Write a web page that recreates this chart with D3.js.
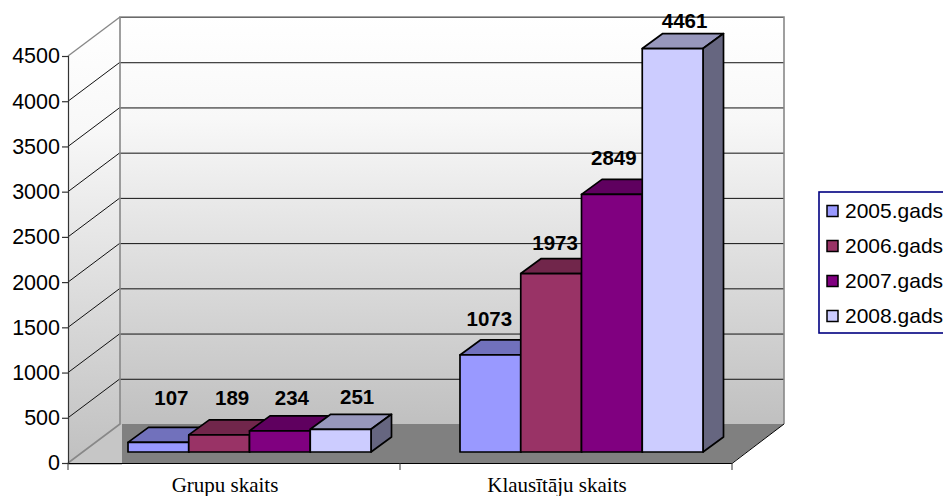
<!DOCTYPE html>
<html><head><meta charset="utf-8">
<script src="https://cdnjs.cloudflare.com/ajax/libs/d3/7.8.5/d3.min.js"></script>
<style>html,body{margin:0;padding:0;background:#fff;overflow:hidden}svg{display:block}</style>
</head><body><svg id="c" width="943" height="496"></svg>
<script>
const categories = ["Grupu skaits", "Klausītāju skaits"];
const seriesNames = ["2005.gads", "2006.gads", "2007.gads", "2008.gads"];
const values2005 = [107, 1073];
const values2006 = [189, 1973];
const values2007 = [234, 2849];
const values2008 = [251, 4461];
const yTicks = [0, 500, 1000, 1500, 2000, 2500, 3000, 3500, 4000, 4500];
const seriesColors = ["#9999FF", "#993366", "#800080", "#CCCCFF"];
// label nudges relative to the bar's front-top centre [dx, dy]
const labelNudges = [
  [[13,-37],[13,-30],[12,-26],[16.5,-25.5]],
  [[-1,-28.5],[4,-23.5],[2,-29],[12,-21]]
];
const allValues = [values2005, values2006, values2007, values2008];

const svg = d3.select("#c");
const L = 68, R = 732, Y0 = 463, Y1 = 56, DX = 52, DY = 39;
const y = d3.scaleLinear().domain([0, 4500]).range([Y0, Y1]);
const xCat = d3.scaleBand().domain(categories).range([L, R]);
const xSer = d3.scaleBand().domain(seriesNames).range([60, 303]);
const bDX = 20.5, bDY = 15, bLift = 11;

const defs = svg.append("defs");
const g1 = defs.append("linearGradient").attr("id","wall").attr("x1",0).attr("x2",0).attr("y1",0).attr("y2",1);
g1.append("stop").attr("offset","0%").attr("stop-color","#ffffff");
g1.append("stop").attr("offset","25%").attr("stop-color","#f8f8f8");
g1.append("stop").attr("offset","100%").attr("stop-color","#c0c0c0");

const path = pts => "M" + pts.map(p => p.join(",")).join("L") + "Z";

svg.append("rect").attr("x",L).attr("y",Y0-DY).attr("width",DX+2).attr("height",DY+2).attr("fill","#c6c6c6");
svg.append("path").attr("d",path([[L,Y1],[L+DX,Y1-DY],[L+DX,Y0-DY],[L,Y0]])).attr("fill","url(#wall)");
svg.append("rect").attr("x",L+DX).attr("y",Y1-DY).attr("width",R-L).attr("height",Y0-Y1).attr("fill","url(#wall)");
svg.append("path").attr("d",path([[L+DX+2,Y0-DY],[R+DX,Y0-DY],[R,Y0],[L+DX+2,Y0]])).attr("fill","#808080");

const gridTicks = yTicks.filter(t => t > 0);
svg.append("g").selectAll("line.b").data(gridTicks).join("line")
  .attr("x1",L+DX).attr("x2",R+DX).attr("y1",d=>y(d)-DY+.5).attr("y2",d=>y(d)-DY+.5)
  .attr("stroke","#111").attr("stroke-width",1);
svg.append("g").selectAll("line.l").data(gridTicks.filter(t=>t<4500)).join("line")
  .attr("x1",L).attr("x2",L+DX).attr("y1",d=>y(d)).attr("y2",d=>y(d)-DY)
  .attr("stroke","#111").attr("stroke-width",1);

svg.append("path").attr("d",`M${L},${Y0}L${L+DX},${Y0-DY}L${L+DX},${Y1-DY}L${R+DX},${Y1-DY}L${R+DX},${Y0-DY}`)
  .attr("fill","none").attr("stroke","#888").attr("stroke-width",1.6);
svg.append("path").attr("d",`M${L},${Y1}L${L+DX},${Y1-DY}`).attr("fill","none").attr("stroke","#888").attr("stroke-width",1.4);
svg.append("path").attr("d",`M${L},${Y0+.5}L${R},${Y0+.5}L${R+DX},${Y0-DY}`).attr("fill","none").attr("stroke","#000").attr("stroke-width",1);

const yAxis = d3.axisLeft(y).tickValues(yTicks).tickSize(6).tickPadding(2).tickFormat(d3.format("d"));
const ya = svg.append("g").attr("transform",`translate(${L},0)`).call(yAxis);
ya.selectAll("path,line").attr("stroke","#333").attr("stroke-width",1.2);
ya.selectAll("text").attr("font-family","'Liberation Sans',Arial,sans-serif").attr("font-size",21.5).attr("fill","#000");

svg.append("g").selectAll("line").data([...categories.map(c=>xCat(c)), R]).join("line")
  .attr("x1",d=>d).attr("x2",d=>d).attr("y1",Y0).attr("y2",Y0+7).attr("stroke","#333");
svg.append("g").selectAll("text").data(categories).join("text")
  .attr("x",c=>xCat(c)+xCat.bandwidth()/2-9).attr("y",492).attr("text-anchor","middle")
  .attr("font-family","'Liberation Serif','Times New Roman',serif").attr("font-size",21).attr("fill","#000")
  .text(c=>c);

const barsG = svg.append("g");
const labelsG = svg.append("g");
categories.forEach((cat,ci)=>{
  seriesNames.forEach((s,si)=>{
    const v = allValues[si][ci];
    const x0 = xCat(cat)+xSer(s), w = xSer.bandwidth();
    const yb = y(0)-bLift, yt = y(v)-bLift;
    const col = d3.color(seriesColors[si]);
    const g = barsG.append("g").attr("stroke","#000").attr("stroke-width",1.7).attr("stroke-linejoin","round");
    g.append("path").attr("d",path([[x0,yt],[x0+bDX,yt-bDY],[x0+w+bDX,yt-bDY],[x0+w,yt]])).attr("fill",col.darker(0.85));
    g.append("path").attr("d",path([[x0+w,yt],[x0+w+bDX,yt-bDY],[x0+w+bDX,yb-bDY],[x0+w,yb]])).attr("fill",d3.rgb(col.r*.5,col.g*.5,col.b*.5));
    g.append("rect").attr("x",x0).attr("y",yt).attr("width",w).attr("height",yb-yt).attr("fill",col);
    const n = labelNudges[ci][si];
    labelsG.append("text").attr("x",x0+w/2+n[0]).attr("y",yt+n[1]).attr("text-anchor","middle")
      .attr("font-family","'Liberation Sans',Arial,sans-serif").attr("font-weight","bold").attr("font-size",20.5)
      .attr("fill","#000").text(v);
  });
});

const lg = svg.append("g");
lg.append("rect").attr("x",819).attr("y",192).attr("width",160).attr("height",141)
  .attr("fill","#fff").attr("stroke","#000080").attr("stroke-width",1.6);
const ly = d3.scalePoint().domain(seriesNames).range([211,316]);
seriesNames.forEach((s,i)=>{
  lg.append("rect").attr("x",827).attr("y",ly(s)-5.5).attr("width",11).attr("height",11)
    .attr("fill",seriesColors[i]).attr("stroke","#000").attr("stroke-width",1.5);
  lg.append("text").attr("x",845).attr("y",ly(s)+7).attr("font-family","'Liberation Sans',Arial,sans-serif")
    .attr("font-size",21).attr("fill","#000").text(s);
});
</script></body></html>
